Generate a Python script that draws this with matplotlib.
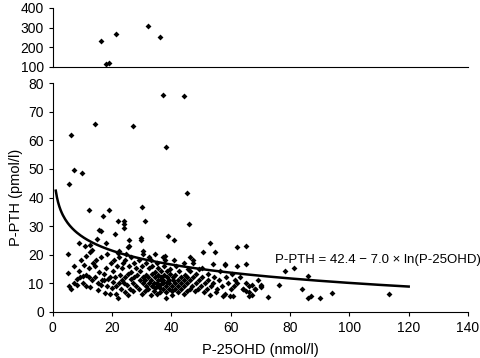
import numpy as np
import matplotlib
matplotlib.use("Agg")
import matplotlib.pyplot as plt

plt.rcParams['font.family'] = ['Liberation Sans', 'DejaVu Sans']

# High outliers (upper panel)
hi_x = [16.1, 21.3, 32.1, 36.1, 18.1, 19.0]
hi_y = [230, 266, 306, 253, 113, 120]

# Main panel points (P-25OHD, P-PTH)
pts = [
    (37.3, 76.0), (44.3, 75.5), (14.1, 65.7), (27.1, 65.0), (6.2, 61.8), (38.2, 57.6),
    (7.1, 49.5), (10.0, 48.7), (5.3, 44.6), (45.2, 41.7), (30.1, 36.7), (12.3, 35.5),
    (19.0, 35.8), (45.8, 30.6), (16.9, 33.5), (31.0, 31.8), (15.7, 28.8), (16.4, 28.2),
    (22.0, 31.8), (24.0, 31.8), (24.0, 30.6), (24.0, 29.4), (21.1, 27.4), (15.0, 25.5),
    (25.8, 25.0), (25.8, 23.2), (25.2, 22.7), (29.9, 25.9), (29.9, 25.0), (38.9, 26.5),
    (40.9, 25.3), (53.0, 24.1), (50.8, 21.0), (54.8, 20.8), (65.2, 22.9), (9.0, 24.1),
    (10.8, 23.2), (12.4, 23.5), (5.2, 20.4), (12.6, 20.8), (18.0, 24.1), (22.0, 20.6),
    (30.3, 21.2), (38.0, 19.4), (40.9, 18.0), (37.8, 18.0), (53.9, 16.6), (58.0, 16.6),
    (65.2, 16.6), (62.0, 22.8), (62.0, 16.0), (58.2, 16.5), (78.3, 14.4), (81.2, 15.2),
    (86.1, 12.5), (84.1, 8.0), (86.1, 5.0), (87.0, 5.6), (90.2, 5.0), (94.3, 6.5),
    (113.2, 6.2), (76.2, 9.3), (70.2, 9.4), (70.2, 8.8), (67.2, 9.4), (68.1, 7.9),
    (66.3, 7.1), (64.1, 7.9), (72.4, 5.1), (59.8, 5.6), (60.9, 5.6), (57.3, 5.6),
    # x 4-10
    (5, 13.5), (5.4, 9), (6.3, 8), (7.2, 10.3), (7, 16), (8.1, 11.4), (9.2, 12.2), (9, 14.3),
    (9.4, 18), (10.3, 10.1), (10.1, 12.6), (11.2, 9.2), (10.4, 16.4), (8.2, 9.5),
    # x 10-20
    (11.3, 13.1), (12.2, 15.3), (12.4, 8.7), (13.1, 11.2), (13.5, 17.2), (14.2, 12.4),
    (14.4, 18.3), (15.1, 7.6), (15.3, 10.2), (15.6, 14.1), (16.2, 9.4), (16.1, 19.2),
    (17.3, 11.3), (17.2, 13.4), (17.5, 6.8), (18.3, 9.1), (18.1, 15.2), (18.4, 20.3),
    (19.2, 12.1), (19.5, 17.2), (20.1, 8.3), (20.3, 10.4), (20.2, 14.2), (20.6, 18.1),
    (11.1, 19.4), (13.2, 21.8), (14.1, 16.2), (16.5, 11.1), (19.3, 6.2), (12.3, 12.4),
    (18.6, 11.6),
    # x 20-30
    (21.2, 6.3), (21.4, 9.2), (21.1, 12.3), (21.5, 16.1), (22.1, 4.9), (22.3, 10.2),
    (22.5, 13.1), (22.2, 19.3), (23.1, 8.2), (23.4, 11.1), (23.2, 15.4), (23.6, 17.2),
    (24.2, 7.1), (24.1, 10.3), (24.5, 12.2), (24.3, 18.3), (25.2, 6.1), (25.1, 9.3),
    (25.4, 13.2), (25.6, 16.1), (26.1, 8.2), (26.3, 11.4), (26.2, 14.1), (26.5, 19.1),
    (27.2, 7.3), (27.1, 10.1), (27.5, 12.3), (27.3, 17.2), (28.1, 9.2), (28.4, 13.1),
    (28.2, 15.3), (29.1, 8.1), (29.3, 11.2), (29.5, 14.3), (29.2, 18.2), (30.1, 6.3),
    (30.3, 10.1), (30.5, 12.2), (30.2, 16.1), (22.4, 21.2), (24.6, 20.1),
    # x 30-45
    (31.1, 7.2), (31.3, 9.1), (31.2, 11.3), (31.5, 13.1), (31.4, 17.2), (32.1, 8.1),
    (32.3, 10.2), (32.2, 12.1), (32.5, 15.2), (33.1, 6.1), (33.3, 9.2), (33.2, 11.1),
    (33.5, 13.3), (33.4, 16.1), (34.1, 7.2), (34.3, 8.4), (34.2, 10.1), (34.5, 12.2),
    (34.4, 14.1), (35.1, 6.2), (35.3, 9.1), (35.2, 10.3), (35.5, 11.2), (35.4, 13.1),
    (35.6, 15.2), (36.1, 7.1), (36.3, 8.3), (36.2, 9.4), (36.5, 11.1), (36.4, 12.3),
    (36.6, 14.2), (37.1, 8.1), (37.3, 10.2), (37.2, 11.3), (37.5, 13.1), (37.4, 16.2),
    (38.1, 4.9), (38.3, 7.1), (38.2, 9.2), (38.5, 10.4), (38.4, 12.1), (38.6, 14.2),
    (39.1, 8.2), (39.3, 10.1), (39.2, 11.2), (39.5, 13.3), (39.4, 15.1), (40.1, 6.1),
    (40.3, 7.2), (40.2, 9.1), (40.5, 11.3), (40.4, 12.2), (41.1, 8.1), (41.3, 10.2),
    (41.2, 13.1), (41.5, 16.2), (42.1, 7.1), (42.3, 9.2), (42.2, 11.1), (42.5, 14.2),
    (43.1, 8.2), (43.3, 10.1), (43.2, 12.3), (44.1, 6.2), (44.3, 9.1), (44.2, 11.2),
    (44.5, 13.1), (45.1, 7.2), (45.3, 10.1), (45.2, 12.2), (45.5, 15.1), (33.2, 18.2),
    (35.3, 17.1), (37.2, 19.1), (32.4, 19.2), (34.3, 20.1), (30.4, 20.2),
    # x 45-60
    (46.1, 8.2), (46.3, 11.1), (46.2, 14.2), (47.1, 9.1), (47.3, 12.2), (47.2, 17.1),
    (48.1, 7.2), (48.3, 10.1), (48.2, 13.2), (49.1, 8.1), (49.3, 11.2), (49.2, 15.1),
    (50.1, 9.2), (50.3, 12.1), (51.1, 7.1), (51.3, 10.2), (52.1, 8.2), (52.3, 11.1),
    (52.2, 13.2), (53.1, 6.1), (53.3, 9.2), (54.1, 10.1), (54.3, 12.2), (55.1, 7.1),
    (55.3, 8.2), (56.1, 11.1), (56.3, 14.2), (57.1, 9.1), (58.1, 6.2), (58.3, 12.1),
    (59.1, 10.2), (60.1, 8.1), (60.3, 13.2), (47.4, 18.1), (50.2, 15.2), (44.4, 17.1),
    (46.4, 19.2),
    # x 60-75
    (61.1, 9.2), (61.3, 11.1), (62.2, 10.1), (63.1, 12.2), (64.2, 8.1), (65.1, 7.2),
    (65.3, 10.1), (66.1, 9.2), (67.1, 6.1), (68.2, 8.2), (69.1, 11.1), (70.1, 9.1),
    (66.2, 5.5),
]
lo_x = [p[0] for p in pts]
lo_y = [p[1] for p in pts]

fit_a, fit_b = 42.4, 7.0
fit_x = np.linspace(1, 120, 300)
fit_y = fit_a - fit_b * np.log(fit_x)

fig = plt.figure(figsize=(4.8, 3.58), dpi=100)
ax_hi = fig.add_axes([0.110, 0.813, 0.865, 0.165])
ax_lo = fig.add_axes([0.110, 0.1285, 0.865, 0.6395])

for ax in (ax_hi, ax_lo):
    ax.spines['top'].set_visible(False)
    ax.spines['right'].set_visible(False)
    ax.tick_params(direction='out', length=3, width=0.8, labelsize=10)
    ax.set_xlim(0, 140)

ax_hi.scatter(hi_x, hi_y, s=9, marker='D', color='black', linewidths=0)
ax_hi.set_ylim(100, 400)
ax_hi.set_yticks([100, 200, 300, 400])
ax_hi.set_xticks([])

ax_lo.scatter(lo_x, lo_y, s=9, marker='D', color='black', linewidths=0)
ax_lo.plot(fit_x, fit_y, color='black', lw=1.8)
ax_lo.set_ylim(0, 80)
ax_lo.set_yticks(range(0, 81, 10))
ax_lo.set_xticks(range(0, 141, 20))
ax_lo.set_xlabel('P-25OHD (nmol/l)', fontsize=10.5, labelpad=6)
ax_lo.set_ylabel('P-PTH (pmol/l)', fontsize=10.5, labelpad=4)
ax_lo.text(75, 16.0, 'P-PTH = 42.4 \u2212 7.0 \u00d7 ln(P-25OHD)', fontsize=9.5, va='bottom', ha='left')

fig.savefig('out.png', dpi=100)
